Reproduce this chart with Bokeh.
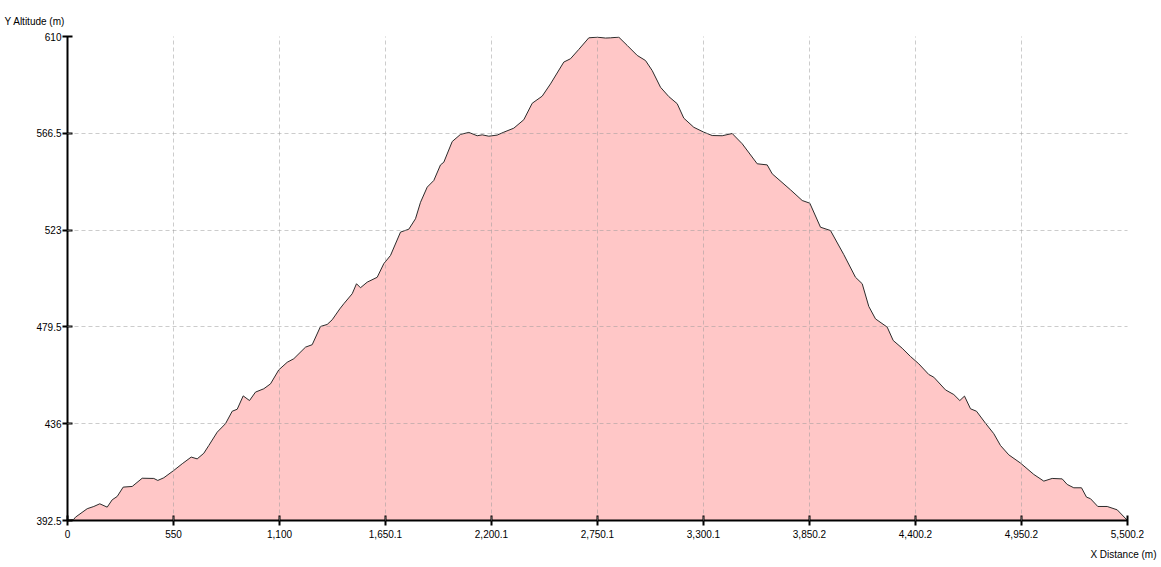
from bokeh.plotting import figure
from bokeh.models import FixedTicker, Title, Range1d
from bokeh.embed import file_html
from bokeh.resources import INLINE

# Elevation profile: distance (m) vs altitude (m)
distance = [0, 31.1, 41.5, 102.2, 136.5, 167.6, 206.0, 231.9, 257.9, 289.0,
            335.7, 387.6, 447.8, 468.6, 499.7, 551.6, 595.2, 641.9, 673.0, 707.2,
            733.2, 776.8, 819.8, 854.6, 880.5, 911.7, 944.4, 975.5, 1018.6, 1053.3,
            1096.4, 1140.0, 1174.3, 1235.0, 1269.7, 1312.8, 1347.5, 1373.5, 1412.9, 1433.7,
            1477.3, 1499.6, 1520.3, 1555.1, 1607.0, 1641.2, 1676.0, 1727.9, 1771.0, 1805.7,
            1831.7, 1866.4, 1900.7, 1935.4, 1952.6, 1996.2, 2039.2, 2082.3, 2125.9, 2151.8,
            2186.1, 2229.6, 2263.9, 2315.8, 2367.7, 2411.3, 2463.2, 2506.2, 2575.2, 2610.0,
            2653.1, 2704.9, 2748.5, 2791.6, 2817.6, 2860.6, 2904.2, 2956.1, 2999.2, 3033.9,
            3077.0, 3120.1, 3163.7, 3197.9, 3249.8, 3301.7, 3345.2, 3397.1, 3449.0, 3500.9,
            3578.8, 3630.6, 3656.6, 3751.6, 3812.3, 3851.7, 3907.2, 3959.1, 4028.1, 4088.8,
            4123.6, 4157.8, 4192.6, 4253.3, 4284.4, 4331.1, 4374.2, 4417.3, 4469.2, 4495.1,
            4555.8, 4598.9, 4630.1, 4654.4, 4685.6, 4716.7, 4763.4, 4806.5, 4841.2, 4884.3,
            4945.0, 5014.0, 5065.9, 5109.4, 5161.3, 5187.3, 5221.5, 5261.5, 5287.5, 5308.2,
            5346.1, 5394.8, 5446.7, 5500.2]
altitude = [392.5, 392.9, 394.0, 397.8, 398.8, 400.0, 398.5, 401.8, 403.3, 407.5,
            407.8, 411.5, 411.4, 410.5, 411.7, 415.0, 418.0, 421.0, 420.2, 422.7,
            426.2, 432.2, 436.0, 441.6, 442.5, 448.5, 446.4, 450.2, 451.7, 453.9,
            460.2, 463.6, 465.2, 470.4, 471.5, 479.7, 480.6, 482.7, 487.6, 489.9,
            494.4, 498.9, 497.1, 499.6, 501.8, 507.9, 511.6, 522.1, 523.4, 528.1,
            535.5, 542.3, 545.3, 552.3, 553.5, 562.8, 566.0, 566.9, 565.4, 565.8,
            565.2, 565.7, 567.0, 568.8, 572.6, 580.0, 583.2, 588.7, 598.5, 600.0,
            604.2, 609.4, 609.7, 609.3, 609.4, 609.7, 606.0, 601.5, 599.2, 594.7,
            587.2, 583.0, 579.8, 573.3, 569.2, 567.0, 565.5, 565.4, 566.4, 561.8,
            552.8, 552.3, 548.3, 541.1, 536.3, 535.1, 524.3, 522.8, 512.0, 501.8,
            498.9, 488.7, 483.1, 479.4, 473.4, 469.9, 466.2, 462.9, 458.1, 456.9,
            451.2, 449.1, 446.4, 448.4, 442.7, 441.6, 436.2, 431.5, 426.2, 422.0,
            418.3, 413.2, 410.2, 411.4, 411.2, 408.7, 407.2, 407.2, 403.0, 402.3,
            398.8, 398.8, 397.3, 392.5]

x_ticks = [0, 550.02, 1100.04, 1650.06, 2200.08, 2750.1, 3300.12, 3850.14, 4400.16, 4950.18, 5500.2]
x_tick_labels = ["0", "550", "1,100", "1,650.1", "2,200.1", "2,750.1", "3,300.1",
                 "3,850.2", "4,400.2", "4,950.2", "5,500.2"]
y_ticks = [392.5, 436, 479.5, 523, 566.5, 610]
y_tick_labels = ["392.5", "436", "479.5", "523", "566.5", "610"]
x_title = "X Distance (m)"
y_title = "Y Altitude (m)"

FONT = "Liberation Sans"

p = figure(width=1161, height=567, output_backend="svg", toolbar_location=None,
           x_range=Range1d(x_ticks[0], x_ticks[-1]), y_range=Range1d(y_ticks[0], y_ticks[-1]),
           min_border_left=67, min_border_right=34, min_border_top=36, min_border_bottom=47)
p.outline_line_color = None
p.background_fill_color = "white"
p.border_fill_color = "white"

p.varea(x=distance, y1=y_ticks[0], y2=altitude, fill_color="#FFC7C7", fill_alpha=1.0)
p.line(x=distance, y=altitude, line_color="#2b2b2b", line_width=1)

for ax, ticks, labels in ((p.xaxis[0], x_ticks, x_tick_labels), (p.yaxis[0], y_ticks, y_tick_labels)):
    ax.ticker = FixedTicker(ticks=ticks)
    ax.major_label_overrides = {t: l for t, l in zip(ticks, labels)}
    ax.minor_tick_line_color = None
    ax.major_tick_in = 5
    ax.major_tick_out = 5
    ax.major_tick_line_width = 2
    ax.major_tick_line_color = "black"
    ax.axis_line_width = 2
    ax.axis_line_color = "black"
    ax.major_label_text_font = FONT
    ax.major_label_text_font_size = "10px"
    ax.major_label_text_color = "black"

p.xaxis.major_label_standoff = 4
p.yaxis.major_label_standoff = 1

p.xgrid.ticker = FixedTicker(ticks=x_ticks[1:])
p.ygrid.ticker = FixedTicker(ticks=y_ticks[1:])
for g in (p.xgrid[0], p.ygrid[0]):
    g.grid_line_color = "#9a9a9a"
    g.grid_line_alpha = 0.5
    g.grid_line_dash = "4 3"
    g.grid_line_width = 1
    g.level = "overlay"

p.add_layout(Title(text=y_title, align="left", offset=-63, standoff=20,
                   text_font=FONT, text_font_size="10px", text_font_style="normal",
                   text_color="black"), "above")
p.add_layout(Title(text=x_title, align="right", offset=-29, standoff=13,
                   text_font=FONT, text_font_size="10px", text_font_style="normal",
                   text_color="black"), "below")

open("out.html", "w").write(file_html(p, INLINE))
